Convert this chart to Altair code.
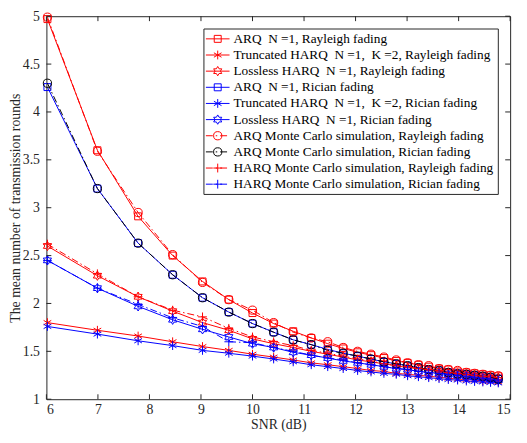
import math
import altair as alt
import pandas as pd

# ---------------- data ----------------
snr_db = [6.02, 6.99, 7.78, 8.45, 9.03, 9.54, 10.0, 10.41, 10.79, 11.14, 11.46, 11.76, 12.04,
          12.30, 12.55, 12.79, 13.01, 13.22, 13.42, 13.62, 13.80, 13.98, 14.15, 14.31, 14.47,
          14.62, 14.77]

arq_ray = [4.97, 3.60, 2.91, 2.50, 2.23, 2.04, 1.90, 1.79, 1.71, 1.64, 1.58, 1.53, 1.49,
           1.46, 1.43, 1.40, 1.38, 1.36, 1.34, 1.32, 1.31, 1.29, 1.28, 1.27, 1.26, 1.25, 1.24]
trunc_ray = [1.80, 1.72, 1.66, 1.60, 1.55, 1.51, 1.47, 1.44, 1.41, 1.38, 1.36, 1.34, 1.32,
             1.30, 1.29, 1.27, 1.26, 1.25, 1.24, 1.23, 1.22, 1.21, 1.205, 1.20, 1.19, 1.185, 1.18]
lossless_ray = [2.60, 2.29, 2.07, 1.92, 1.80, 1.72, 1.63, 1.58, 1.54, 1.50, 1.47, 1.44, 1.41,
                1.39, 1.37, 1.35, 1.33, 1.32, 1.30, 1.29, 1.28, 1.27, 1.26, 1.25, 1.24, 1.23, 1.225]
arq_ric = [4.26, 3.20, 2.63, 2.30, 2.06, 1.91, 1.79, 1.70, 1.62, 1.57, 1.52, 1.48, 1.45,
           1.42, 1.39, 1.37, 1.35, 1.33, 1.31, 1.30, 1.28, 1.27, 1.26, 1.25, 1.24, 1.23, 1.215]
trunc_ric = [1.76, 1.68, 1.61, 1.56, 1.51, 1.48, 1.45, 1.42, 1.39, 1.36, 1.34, 1.32, 1.30,
             1.285, 1.27, 1.26, 1.245, 1.235, 1.225, 1.215, 1.205, 1.20, 1.19, 1.185, 1.18, 1.175, 1.17]
lossless_ric = [2.45, 2.16, 1.97, 1.83, 1.73, 1.65, 1.58, 1.54, 1.49, 1.46, 1.43, 1.40, 1.38,
                1.36, 1.34, 1.32, 1.31, 1.29, 1.28, 1.27, 1.26, 1.25, 1.24, 1.23, 1.22, 1.21, 1.20]
arq_mc_ray = [4.99, 3.59, 2.95, 2.51, 2.22, 2.04, 1.93, 1.80, 1.70, 1.64, 1.60, 1.54, 1.50,
              1.47, 1.44, 1.41, 1.38, 1.36, 1.35, 1.32, 1.31, 1.30, 1.28, 1.27, 1.26, 1.25, 1.245]
arq_mc_ric = [4.30, 3.20, 2.63, 2.30, 2.06, 1.91, 1.79, 1.70, 1.62, 1.57, 1.51, 1.48, 1.45,
              1.42, 1.39, 1.37, 1.35, 1.33, 1.31, 1.30, 1.28, 1.265, 1.26, 1.25, 1.24, 1.23, 1.21]
harq_mc_ray = [2.62, 2.31, 2.07, 1.93, 1.86, 1.74, 1.65, 1.60, 1.56, 1.51, 1.48, 1.45, 1.42,
               1.40, 1.37, 1.35, 1.34, 1.32, 1.31, 1.30, 1.28, 1.27, 1.26, 1.25, 1.24, 1.235, 1.225]
harq_mc_ric = [2.45, 2.16, 1.99, 1.85, 1.76, 1.60, 1.59, 1.54, 1.50, 1.46, 1.43, 1.41, 1.38,
               1.36, 1.34, 1.32, 1.31, 1.29, 1.28, 1.27, 1.26, 1.25, 1.24, 1.23, 1.22, 1.21, 1.20]

NB = "\u00a0"
labels = [
    f"ARQ{NB} N =1, Rayleigh fading",
    f"Truncated HARQ{NB} N =1,{NB} K =2, Rayleigh fading",
    f"Lossless HARQ{NB} N =1, Rayleigh fading",
    f"ARQ{NB} N =1, Rician fading",
    f"Truncated HARQ{NB} N =1,{NB} K =2, Rician fading",
    f"Lossless HARQ{NB} N =1, Rician fading",
    "ARQ Monte Carlo simulation, Rayleigh fading",
    "ARQ Monte Carlo simulation, Rician fading",
    "HARQ Monte Carlo simulation, Rayleigh fading",
    "HARQ Monte Carlo simulation, Rician fading",
]
series_values = [arq_ray, trunc_ray, lossless_ray, arq_ric, trunc_ric, lossless_ric,
                 arq_mc_ray, arq_mc_ric, harq_mc_ray, harq_mc_ric]

x_ticks = [6, 7, 8, 9, 10, 11, 12, 13, 14, 15]
y_ticks = [1, 1.5, 2, 2.5, 3, 3.5, 4, 4.5, 5]

# ---------------- styles ----------------
RED = "#ff0000"
BLUE = "#0000ff"
BLACK = "#000000"
DASHDOT = [7, 3, 1.5, 3]


def hexagram():
    pts = []
    for k in range(12):
        ang = math.radians(-90 + 30 * k)
        r = 1.0 if k % 2 == 0 else 1 / math.sqrt(3)
        pts.append((r * math.cos(ang), r * math.sin(ang)))
    return "M" + "L".join(f"{px:.3f},{py:.3f}" for px, py in pts) + "Z"


ASTER = "M0,-1L0,1M-0.866,-0.5L0.866,0.5M-0.866,0.5L0.866,-0.5"
PLUS = "M-1,0L1,0M0,-1L0,1"
HEX = hexagram()

styles = [
    (RED, None, "square", 50),
    (RED, None, ASTER, 80),
    (RED, None, HEX, 90),
    (BLUE, None, "square", 50),
    (BLUE, None, ASTER, 80),
    (BLUE, None, HEX, 90),
    (RED, DASHDOT, "circle", 70),
    (BLACK, DASHDOT, "circle", 70),
    (RED, DASHDOT, PLUS, 80),
    (BLUE, DASHDOT, PLUS, 80),
]

W, H = 471, 389
FONT = "Liberation Serif"

xs = alt.Scale(domain=[6, 15], nice=False, zero=False)
ys = alt.Scale(domain=[1, 5], nice=False, zero=False)

layers = []
for i, (vals, (col, dash, shape, size)) in enumerate(zip(series_values, styles)):
    df = pd.DataFrame({"snr": snr_db, "val": vals})
    base = alt.Chart(df).encode(
        x=alt.X("snr:Q", scale=xs,
                axis=alt.Axis(values=x_ticks, title="SNR (dB)", format="~g")),
        y=alt.Y("val:Q", scale=ys,
                axis=alt.Axis(values=y_ticks, title="The mean number of transmission rounds",
                              format="~g")),
    )
    line_kw = dict(color=col, strokeWidth=1)
    if dash:
        line_kw["strokeDash"] = dash
    layers.append(base.mark_line(**line_kw))
    layers.append(base.mark_point(shape=shape, size=size, filled=False, color=col,
                                  strokeWidth=1, opacity=1))

# inner ticks on all four sides
xt = pd.DataFrame({"t": x_ticks})
yt = pd.DataFrame({"t": y_ticks})
tick_col = "#262626"
layers.append(alt.Chart(xt).mark_rule(color=tick_col, strokeWidth=1).encode(
    x=alt.X("t:Q", scale=xs), y=alt.value(H), y2=alt.value(H - 5)))
layers.append(alt.Chart(xt).mark_rule(color=tick_col, strokeWidth=1).encode(
    x=alt.X("t:Q", scale=xs), y=alt.value(0), y2=alt.value(5)))
layers.append(alt.Chart(yt).mark_rule(color=tick_col, strokeWidth=1).encode(
    y=alt.Y("t:Q", scale=ys), x=alt.value(0), x2=alt.value(5)))
layers.append(alt.Chart(yt).mark_rule(color=tick_col, strokeWidth=1).encode(
    y=alt.Y("t:Q", scale=ys), x=alt.value(W), x2=alt.value(W - 5)))

# legend box
LX0, LX1, LY0, LY1 = 160, 459, 13, 181
one = pd.DataFrame({"a": [0]})
layers.append(alt.Chart(one).mark_rect(fill="white", stroke="#262626", strokeWidth=1).encode(
    x=alt.value(LX0), x2=alt.value(LX1), y=alt.value(LY0), y2=alt.value(LY1)))
for i, (lab, (col, dash, shape, size)) in enumerate(zip(labels, styles)):
    ry = 23 + 16.4 * i
    row = pd.DataFrame({"label": [lab]})
    rk = dict(color=col, strokeWidth=1)
    if dash:
        rk["strokeDash"] = dash
    layers.append(alt.Chart(row).mark_rule(**rk).encode(
        x=alt.value(162), x2=alt.value(186), y=alt.value(ry)))
    layers.append(alt.Chart(row).mark_point(shape=shape, size=size, filled=False, color=col,
                                            strokeWidth=1, opacity=1).encode(
        x=alt.value(174), y=alt.value(ry)))
    layers.append(alt.Chart(row).mark_text(align="left", baseline="middle", font=FONT,
                                           fontSize=13.5, color="black").encode(
        x=alt.value(190), y=alt.value(ry), text="label:N"))

chart = alt.layer(*layers).properties(
    width=W, height=H,
    autosize=alt.AutoSizeParams(type="none"),
    padding={"left": 39, "top": 5, "right": 9, "bottom": 33},
).configure_view(stroke="#262626", strokeWidth=1).configure_axis(
    ticks=False, domain=False, grid=False,
    labelFont=FONT, labelFontSize=14, labelColor="#262626",
    titleFont=FONT, titleFontSize=14, titleFontWeight="normal", titleColor="#262626",
).configure_axisX(labelPadding=4, titlePadding=1).configure_axisY(labelPadding=7, titlePadding=0)

chart.save("out.html", embed_options={"renderer": "svg", "actions": False})
